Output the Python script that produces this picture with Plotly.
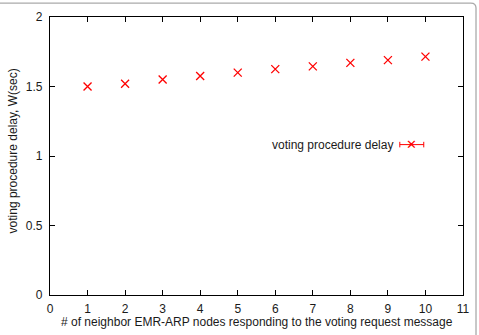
import plotly.graph_objects as go

nodes = [1, 2, 3, 4, 5, 6, 7, 8, 9, 10]
delay = [1.50, 1.52, 1.55, 1.575, 1.60, 1.625, 1.645, 1.67, 1.69, 1.715]
series_name = "voting procedure delay"
x_title = "# of neighbor EMR-ARP nodes responding to the voting request message"
y_title = "voting procedure delay, W(sec)"
x_ticks = list(range(0, 12))
y_ticks = [0, 0.5, 1, 1.5, 2]
y_tick_text = ["0", "0.5", "1", "1.5", "2"]

RED = "#ff0000"
FONT = "Liberation Sans, Arial, sans-serif"
TXT = "#1a1a1a"

fig = go.Figure()
fig.add_trace(go.Scatter(
    x=nodes, y=delay, mode="markers", name=series_name,
    marker=dict(symbol="x-thin", size=8, line=dict(color=RED, width=1.3), color=RED),
    showlegend=False,
))

axis_common = dict(
    showgrid=False, zeroline=False, showline=True, linecolor="black", linewidth=1.2,
    mirror="ticks", ticks="inside", ticklen=5, tickwidth=1, tickcolor="black",
    tickfont=dict(family=FONT, size=12, color=TXT), automargin=False,
)

fig.update_xaxes(range=[0, 11], tickvals=x_ticks, ticklabelstandoff=2, **axis_common)
fig.update_yaxes(range=[0, 2], tickvals=y_ticks, ticktext=y_tick_text, ticklabelstandoff=4,
                 **axis_common)

# axis titles
fig.add_annotation(xref="paper", yref="paper", x=0.5, y=-0.097, xanchor="center", yanchor="middle",
                   text=x_title, showarrow=False, font=dict(family=FONT, size=12, color=TXT))
fig.add_annotation(xref="paper", yref="paper", x=-0.0896, y=0.52, xanchor="center", yanchor="middle",
                   text=y_title, textangle=-90, showarrow=False,
                   font=dict(family=FONT, size=12, color=TXT))

# legend key (text left, sample right), gnuplot style
lx0, lx1, lxm, ly = 0.847, 0.905, 0.876, 0.541  # paper coords
shapes = [
    dict(type="line", xref="paper", yref="paper", x0=lx0, x1=lx1, y0=ly, y1=ly,
         line=dict(color=RED, width=1)),
    dict(type="line", xref="paper", yref="paper", x0=lx0, x1=lx0, y0=ly - 0.01, y1=ly + 0.01,
         line=dict(color=RED, width=1)),
    dict(type="line", xref="paper", yref="paper", x0=lx1, x1=lx1, y0=ly - 0.01, y1=ly + 0.01,
         line=dict(color=RED, width=1)),
]
fig.add_annotation(xref="paper", yref="paper", x=lx0 - 0.012, y=ly, xanchor="right", yanchor="middle",
                   text=series_name, showarrow=False,
                   font=dict(family=FONT, size=12, color=TXT))
fig.add_annotation(xref="paper", yref="paper", x=lxm, y=ly, xanchor="center", yanchor="middle",
                   text="\u2715", showarrow=False,
                   font=dict(family="DejaVu Sans", size=13, color=RED))

# outer rounded frame (partially visible, top and right)
shapes.append(dict(type="path", xref="paper", yref="paper",
                   path="M -0.2,1.050 L 1.019,1.050 Q 1.0315,1.050 1.0315,1.032 L 1.0315,-0.2",
                   line=dict(color="#aaaaaa", width=1.3)))
fig.update_layout(shapes=shapes)

fig.update_layout(
    width=479, height=335,
    margin=dict(l=50, r=16, t=17, b=40),
    paper_bgcolor="white", plot_bgcolor="white",
    showlegend=False,
    font=dict(family=FONT, size=12, color=TXT),
)

fig.write_html("out.html")
